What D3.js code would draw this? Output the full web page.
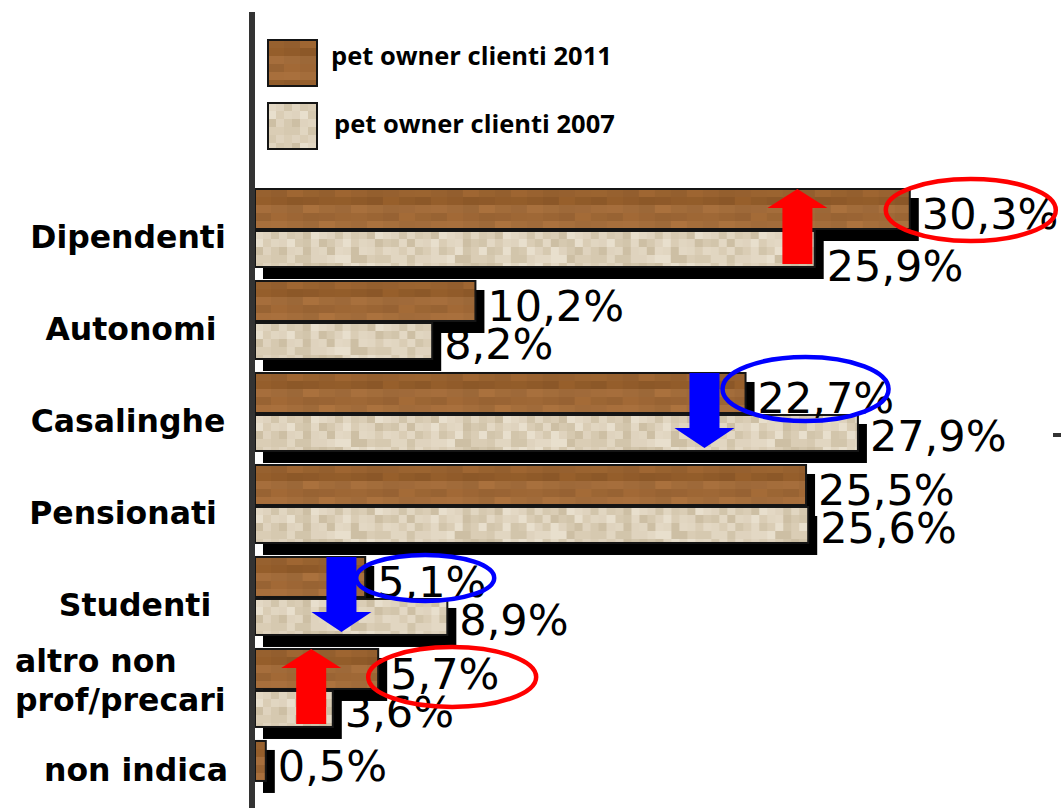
<!DOCTYPE html>
<html>
<head>
<meta charset="utf-8">
<script src="https://cdn.jsdelivr.net/npm/d3@7"></script>
<style>
  body { margin: 0; background: white; }
  svg { display: block; }
</style>
</head>
<body>
<div id="chart"></div>
<script>
//Data
const categories = ["Dipendenti", "Autonomi", "Casalinghe", "Pensionati", "Studenti", "altro non\nprof/precari", "non indica"];
const values2011 = [30.3, 10.2, 22.7, 25.5, 5.1, 5.7, 0.5];
const values2007 = [25.9, 8.2, 27.9, 25.6, 8.9, 3.6, null];
const seriesNames = ["pet owner clienti 2011", "pet owner clienti 2007"];

//Hand drawn marks on the slide (arrow position in % units)
const markedCategories = ["Dipendenti", "Casalinghe", "Studenti", "altro non\nprof/precari"];
const arrowAt = [25.1, 20.8, 4.0, 2.6];

//Ellipse tweaks (style only)
const ellipseDx = [61, 60, 60, 74];
const ellipseDy = [1, -4, 1, 8];
const ellipseRx = [85, 83, 69, 84];
const ellipseRy = [31, 32, 23, 30];

//category label nudges (slide text boxes weren't aligned)
const labelDx = [0, 3, 0, -5, 7, 0, 8];

var width = 1061,
  height = 808;

var svg = d3
  .select("#chart")
  .append("svg")
  .attr("width", width)
  .attr("height", height)
  .style("background-color", "white");

var x = d3.scaleLinear().domain([0, 35]).range([255, 255 + 35 * 21.61]);
var y = d3.scaleBand().domain(categories).range([188, 820]).paddingInner(0.13).paddingOuter(0);

var fmt = d3.formatLocale({ decimal: ",", thousands: ".", grouping: [3], currency: ["", "€"] }).format(".1f");

//Textures (pixelated wood + paper)
var defs = svg.append("defs");

var woodRows = ["#97612f", "#8f5a29", "#a16b3a", "#9b6534", "#a46d3b", "#915c2b"];
var woodShift = [0, 0.06, -0.05, 0.12, 0.02, -0.08, 0.08, -0.02, 0.04, -0.06, 0.15];
var paper = ["#e3d8c4", "#dacdb5", "#d2c5ab", "#e8dfcd", "#d6c9b0", "#dfd3be", "#cdbfa4", "#e1d6c1"];

function makeTexture(id, colorAt) {
  var pat = defs
    .append("pattern")
    .attr("id", id)
    .attr("patternUnits", "objectBoundingBox")
    .attr("patternContentUnits", "userSpaceOnUse")
    .attr("width", 1)
    .attr("height", 1);
  for (var r = 0; r < 7; r++) {
    for (var c = 0; c < 110; c++) {
      pat
        .append("rect")
        .attr("x", c * 8)
        .attr("y", r * 8)
        .attr("width", 8.6)
        .attr("height", 8.6)
        .attr("shape-rendering", "crispEdges")
        .attr("fill", colorAt(c, r));
    }
  }
}

makeTexture("wood", function (c, r) {
  var k = woodShift[(Math.floor(c / 2) * 5 + r * 3) % woodShift.length];
  return d3.color(woodRows[r % woodRows.length]).brighter(k).formatHex();
});
makeTexture("paper", function (c, r) {
  return paper[(c * 5 + r * 3 + ((c * r) % 5)) % paper.length];
});

var fills = ["url(#wood)", "url(#paper)"];

//Bars
var bars = [];
categories.forEach(function (cat, i) {
  var top = y(cat);
  bars.push({ cat: cat, i: i, s: 0, value: values2011[i], top: top, h: 42 });
  if (values2007[i] != null) {
    bars.push({ cat: cat, i: i, s: 1, value: values2007[i], top: top + 42, h: 38 });
  }
});

//Shadows
svg
  .append("g")
  .selectAll("rect")
  .data(bars)
  .join("rect")
  .attr("x", x(0) + 8)
  .attr("y", (d) => d.top + 10)
  .attr("width", (d) => x(d.value) - x(0) + 1)
  .attr("height", (d) => d.h + 1)
  .attr("fill", "black");

svg
  .append("g")
  .selectAll("rect")
  .data(bars)
  .join("rect")
  .attr("x", x(0))
  .attr("y", (d) => d.top + 1)
  .attr("width", (d) => x(d.value) - x(0))
  .attr("height", (d) => d.h - 2)
  .attr("fill", (d) => fills[d.s])
  .attr("stroke", "#151515")
  .attr("stroke-width", 2);

//Axis line
svg
  .append("rect")
  .attr("x", 249)
  .attr("y", 12)
  .attr("width", 6)
  .attr("height", height - 12)
  .attr("fill", "#333");

svg
  .append("rect")
  .attr("x", 1053)
  .attr("y", 433)
  .attr("width", 8)
  .attr("height", 4)
  .attr("fill", "#333");

//Arrows
markedCategories.forEach(function (cat, k) {
  var i = categories.indexOf(cat);
  var up = values2011[i] > values2007[i];
  var cx = x(arrowAt[k]);
  var t = y(cat) + 1;
  var L = 75;
  var pts = up
    ? [[cx, t], [cx + 30, t + 19], [cx + 15, t + 19], [cx + 15, t + L], [cx - 15, t + L], [cx - 15, t + 19], [cx - 30, t + 19]]
    : [[cx, t + L], [cx + 30, t + L - 20], [cx + 15, t + L - 20], [cx + 15, t], [cx - 15, t], [cx - 15, t + L - 20], [cx - 30, t + L - 20]];
  svg
    .append("path")
    .attr("d", d3.line()(pts) + "Z")
    .attr("fill", up ? "#ff0000" : "#0000ff");
});

//Value labels
var labelShift = [[0, 14], [0, 0], [0, 0], [0, 0], [0, 0], [0, 0], [0, 0]];
svg
  .append("g")
  .selectAll("text")
  .data(bars)
  .join("text")
  .attr("x", (d) => x(d.value) + 12)
  .attr("y", (d) => d.top + d.h - 1 + labelShift[d.i][d.s])
  .attr("font-family", "DejaVu Sans, Verdana, sans-serif")
  .attr("font-size", 43)
  .attr("fill", "black")
  .text((d) => fmt(d.value) + "%");

//Ellipses
markedCategories.forEach(function (cat, k) {
  var i = categories.indexOf(cat);
  var up = values2011[i] > values2007[i];
  svg
    .append("ellipse")
    .attr("cx", x(values2011[i]) + ellipseDx[k])
    .attr("cy", y(cat) + 21 + ellipseDy[k])
    .attr("rx", ellipseRx[k])
    .attr("ry", ellipseRy[k])
    .attr("fill", "none")
    .attr("stroke", up ? "#ff0000" : "#0000ff")
    .attr("stroke-width", 4.5);
});

//Category labels
categories.forEach(function (cat, i) {
  var mid = values2007[i] == null ? y(cat) + 21 : y(cat) + y.bandwidth() / 2;
  var lines = cat.split("\n");
  var t = svg
    .append("text")
    .attr("font-family", "DejaVu Sans, Verdana, sans-serif")
    .attr("font-weight", "bold")
    .attr("font-size", 31.5)
    .attr("fill", "black");
  if (lines.length == 1) {
    t.attr("x", 128 + labelDx[i]).attr("y", mid + 20).attr("text-anchor", "middle").text(cat);
  } else {
    lines.forEach(function (line, j) {
      t.append("tspan")
        .attr("x", 15)
        .attr("y", mid - 16 + j * 39)
        .text(line);
    });
  }
});

//Legend
var legend = svg.append("g");
[0, 1].forEach(function (s) {
  legend
    .append("rect")
    .attr("x", 268)
    .attr("y", 40 + s * 63)
    .attr("width", 49)
    .attr("height", 46)
    .attr("fill", fills[s])
    .attr("stroke", "#151515")
    .attr("stroke-width", 2);
  legend
    .append("text")
    .attr("x", 331 + s * 3)
    .attr("y", 65 + s * 68)
    .attr("font-family", "Open Sans, sans-serif")
    .attr("font-weight", "bold")
    .attr("font-size", 25.5)
    .attr("fill", "black")
    .text(seriesNames[s]);
});
</script>
</body>
</html>
